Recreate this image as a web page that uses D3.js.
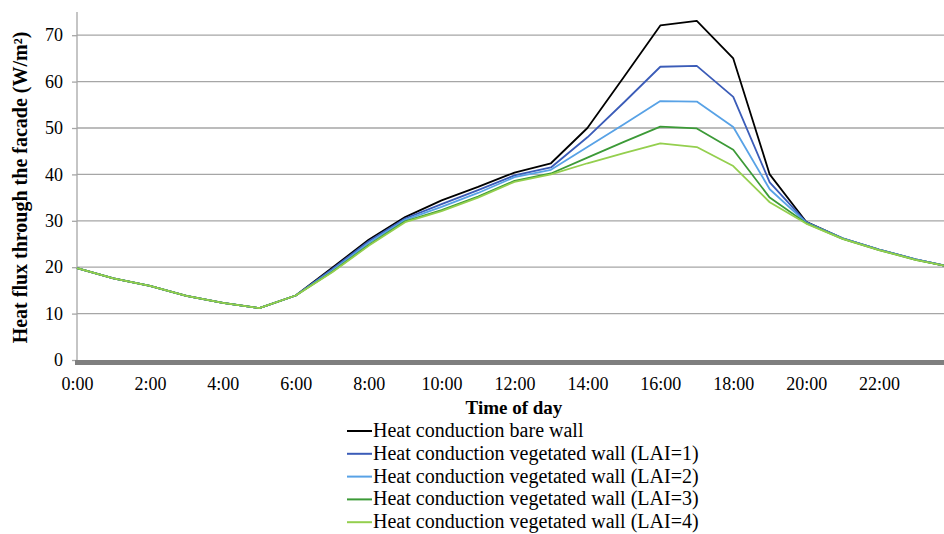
<!DOCTYPE html>
<html>
<head>
<meta charset="utf-8">
<script src="https://cdn.jsdelivr.net/npm/d3@7/dist/d3.min.js"></script>
<style>
  html, body { margin: 0; padding: 0; background: #fff; }
  svg { display: block; }
  svg text { font-family: "Liberation Serif", "Times New Roman", Times, "DejaVu Serif", serif !important; fill: #000; }
</style>
</head>
<body>
<svg id="chart" width="944" height="534"></svg>
<script>
// ---- data ----
const hours = [0,1,2,3,4,5,6,7,8,9,10,11,12,13,14,15,16,17,18,19,20,21,22,23,24];
const bareWall = [19.8,17.6,16.0,13.8,12.3,11.2,13.9,19.9,25.9,30.8,34.4,37.3,40.4,42.4,50.0,61.0,72.1,73.1,65.0,40.0,29.8,26.2,23.8,21.7,20.0];
const lai1 = [19.8,17.6,16.0,13.8,12.3,11.2,13.9,19.6,25.6,30.5,33.6,36.6,39.8,41.5,48.0,55.5,63.2,63.4,56.7,38.3,29.7,26.2,23.8,21.7,20.0];
const lai2 = [19.8,17.6,16.0,13.8,12.3,11.2,13.9,19.3,25.2,30.2,33.0,36.0,39.4,41.0,45.9,50.8,55.8,55.7,50.2,36.8,29.6,26.2,23.8,21.7,20.0];
const lai3 = [19.8,17.6,16.0,13.8,12.3,11.2,13.9,19.0,24.8,29.9,32.3,35.2,38.6,40.2,43.6,47.0,50.3,49.9,45.3,35.0,29.5,26.1,23.7,21.6,20.0];
const lai4 = [19.8,17.6,16.0,13.8,12.3,11.2,13.9,18.9,24.6,29.7,32.1,35.0,38.4,40.0,42.4,44.6,46.7,45.9,41.8,34.0,29.4,26.1,23.7,21.6,20.0];
const seriesNames = [
  "Heat conduction bare wall",
  "Heat conduction vegetated wall (LAI=1)",
  "Heat conduction vegetated wall (LAI=2)",
  "Heat conduction vegetated wall (LAI=3)",
  "Heat conduction vegetated wall (LAI=4)"
];
const seriesValues = [bareWall, lai1, lai2, lai3, lai4];
const seriesColors = ["#000000", "#3B5CB8", "#58A2E6", "#3C9A37", "#94CF4E"];
const xTicks = [0,2,4,6,8,10,12,14,16,18,20,22];
const xTickLabels = ["0:00","2:00","4:00","6:00","8:00","10:00","12:00","14:00","16:00","18:00","20:00","22:00"];
const yTicks = [0,10,20,30,40,50,60,70];

// ---- layout ----
const FONT = '"Liberation Serif", "Times New Roman", Times, "DejaVu Serif", serif';
const svg = d3.select("#chart");
const pL = 77, pR = 944, pT = 12, pB = 360;
const x = d3.scaleLinear().domain([0, 24]).range([77, 952]);
const y = d3.scaleLinear().domain([0, 75]).range([pB, pT]);

// gridlines
svg.append("g")
  .selectAll("line")
  .data(yTicks.filter(d => d > 0))
  .join("line")
  .attr("x1", pL).attr("x2", pR)
  .attr("y1", d => y(d)).attr("y2", d => y(d))
  .attr("stroke", "#A6A6A6").attr("stroke-width", 1.3);

// y axis
const yAxis = svg.append("g")
  .attr("transform", `translate(${pL},0)`)
  .call(d3.axisLeft(y).tickValues(yTicks).tickSize(5).tickPadding(9).tickFormat(d3.format("d")));
yAxis.attr("font-family", FONT);
yAxis.select(".domain").attr("stroke", "#A6A6A6").attr("stroke-width", 1.3)
  .attr("d", `M0,${pT}V${pB}`);
yAxis.selectAll(".tick line").attr("stroke", "#A6A6A6").attr("stroke-width", 1.3);
yAxis.selectAll(".tick text").attr("font-size", 18).attr("font-family", FONT).attr("fill", "#000");

// x axis band
svg.append("rect")
  .attr("x", pL - 2).attr("y", pB).attr("width", pR - pL + 2).attr("height", 5)
  .attr("fill", "#7F7F7F");

const xAxis = svg.append("g")
  .attr("transform", `translate(0,${pB + 5})`)
  .call(d3.axisBottom(x).tickValues(xTicks).tickSize(0).tickPadding(12)
        .tickFormat((d, i) => xTickLabels[i]));
xAxis.attr("font-family", FONT);
xAxis.select(".domain").remove();
xAxis.selectAll(".tick text").attr("font-size", 18).attr("font-family", FONT).attr("fill", "#000");

// lines
svg.append("clipPath").attr("id", "plotclip")
  .append("rect").attr("x", 0).attr("y", 0).attr("width", pR).attr("height", 534);
const line = d3.line().x((d, i) => x(hours[i])).y(d => y(d));
svg.append("g").attr("clip-path", "url(#plotclip)")
  .selectAll("path")
  .data(seriesValues)
  .join("path")
  .attr("d", d => line(d))
  .attr("fill", "none")
  .attr("stroke", (d, i) => seriesColors[i])
  .attr("stroke-width", 1.8)
  .attr("stroke-linejoin", "round");

// axis titles
svg.append("text")
  .attr("x", 514).attr("y", 414)
  .attr("text-anchor", "middle")
  .attr("font-family", FONT)
  .attr("font-size", 19).attr("font-weight", "bold")
  .text("Time of day");

svg.append("text")
  .attr("transform", `translate(27,${(30 + 345) / 2}) rotate(-90)`)
  .attr("text-anchor", "middle")
  .attr("font-family", FONT)
  .attr("font-size", 20).attr("font-weight", "bold")
  .text("Heat flux through the facade (W/m²)");

// legend
const legend = svg.append("g");
const rowY = i => 431 + i * 22.8;
legend.selectAll("line")
  .data(seriesNames)
  .join("line")
  .attr("x1", 347).attr("x2", 372)
  .attr("y1", (d, i) => rowY(i)).attr("y2", (d, i) => rowY(i))
  .attr("stroke", (d, i) => seriesColors[i]).attr("stroke-width", 2);
legend.selectAll("text")
  .data(seriesNames)
  .join("text")
  .attr("x", 373)
  .attr("y", (d, i) => rowY(i) + 6)
  .attr("font-family", FONT)
  .attr("font-size", 20)
  .text(d => d);
</script>
</body>
</html>
